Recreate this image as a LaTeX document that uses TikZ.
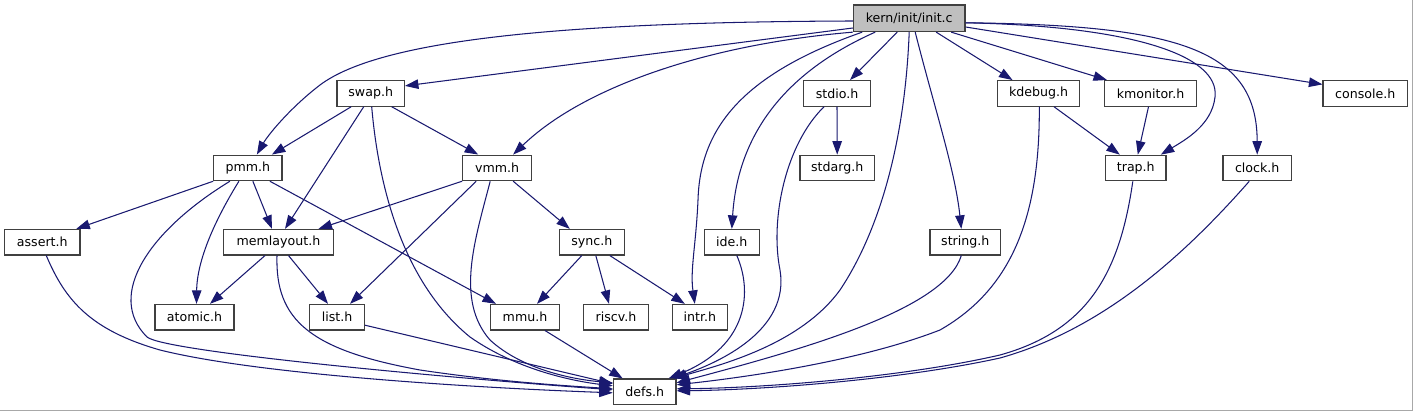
\documentclass[tikz,border=0pt]{standalone}
\usepackage{fontspec}
\setmainfont{DejaVu Sans}
\usetikzlibrary{arrows.meta}
\definecolor{edgeblue}{HTML}{191970}
\definecolor{boxline}{HTML}{404040}
\definecolor{rootfill}{HTML}{BFBFBF}
\definecolor{frameline}{HTML}{A8A8A8}
\tikzset{
  hdr/.style={draw=boxline, line width=1.2pt, fill=white, minimum height=25.5pt, inner sep=0pt,
    font=\fontsize{12.6}{15}\selectfont, text=black},
  rootbox/.style={hdr, fill=rootfill, minimum height=26.5pt},
  edge/.style={draw=edgeblue, line width=1.05pt, -{Triangle[length=13.5pt,width=9.5pt]}, fill=none}
}
\begin{document}
\begin{tikzpicture}[x=1pt,y=-1pt]
\useasboundingbox (0,0) rectangle (1413,411);
\fill[white] (0,0) rectangle (1413,411);
\draw[frameline, line width=1pt] (0,410.5) -- (1412.5,410.5) -- (1412.5,0);

% nodes
\node[rootbox, minimum width=111.7pt] (init) at (909.2,18.3) {kern/init/init.c};
\node[hdr, minimum width=67.3pt] (swap) at (370.7,93.4) {swap.h};
\node[hdr, minimum width=66.7pt] (stdio) at (837,93.4) {stdio.h};
\node[hdr, minimum width=82.3pt] (kdebug) at (1038.5,93.4) {kdebug.h};
\node[hdr, minimum width=92.3pt] (kmonitor) at (1150.5,93.4) {kmonitor.h};
\node[hdr, minimum width=84.3pt] (console) at (1365.2,93.4) {console.h};
\node[hdr, minimum width=68.3pt] (pmm) at (247.9,167.9) {pmm.h};
\node[hdr, minimum width=69pt] (vmm) at (497.2,167.9) {vmm.h};
\node[hdr, minimum width=74.3pt] (stdarg) at (837.2,168) {stdarg.h};
\node[hdr, minimum width=60.3pt] (trap) at (1135.8,168) {trap.h};
\node[hdr, minimum width=68.3pt] (clock) at (1257.2,168) {clock.h};
\node[hdr, minimum width=75.3pt] (assert) at (42.3,242.2) {assert.h};
\node[hdr, minimum width=109.7pt] (memlayout) at (278.5,242.2) {memlayout.h};
\node[hdr, minimum width=65pt] (sync) at (591.8,242.2) {sync.h};
\node[hdr, minimum width=55pt] (ide) at (731.8,242.2) {ide.h};
\node[hdr, minimum width=70.7pt] (string) at (965.3,242.2) {string.h};
\node[hdr, minimum width=79pt] (atomic) at (194.5,317.2) {atomic.h};
\node[hdr, minimum width=54.7pt] (list) at (337,317.2) {list.h};
\node[hdr, minimum width=68.7pt] (mmu) at (525,317.2) {mmu.h};
\node[hdr, minimum width=64.7pt] (riscv) at (616,317.2) {riscv.h};
\node[hdr, minimum width=55pt] (intr) at (699.8,317.2) {intr.h};
\node[hdr, minimum width=62.7pt] (defs) at (644.7,391.8) {defs.h};

% edges from init.c
\draw[edge] ([yshift=-2.7pt]init.west) .. controls (560,22) and (380,40) .. (320,85) .. controls (290,108) and (268,135) .. ([xshift=9pt]pmm.north);
\draw[edge] ([yshift=-9.7pt]init.west) -- ([yshift=7.5pt]swap.east);
\draw[edge] (init.south west) .. controls (700,45) and (580,90) .. ([xshift=16pt]vmm.north);
\draw[edge] ([xshift=-47pt]init.south) .. controls (740,75) and (700,130) .. (698,200) .. controls (696,245) and (690,270) .. ([xshift=-5pt]intr.north);
\draw[edge] ([xshift=-34pt]init.south) .. controls (790,70) and (738,130) .. (ide.north);
\draw[edge] ([xshift=-12pt]init.south) -- ([xshift=13pt]stdio.north);
\draw[edge] (init.south) .. controls (905,140) and (880,230) .. (840,290) .. controls (800,345) and (720,365) .. ([xshift=-3pt]defs.north east);
\draw[edge] ([xshift=6pt]init.south) .. controls (935,110) and (955,170) .. ([xshift=-4pt]string.north);
\draw[edge] ([xshift=27pt]init.south) -- ([xshift=-26pt]kdebug.north);
\draw[edge] ([xshift=42pt]init.south) -- ([xshift=-43.5pt]kmonitor.north);
\draw[edge] ([yshift=-8.7pt]init.east) -- ([yshift=9pt]console.west);
\draw[edge] ([yshift=-4.5pt]init.east) .. controls (1130,26) and (1220,55) .. (1215,97) .. controls (1212,125) and (1185,140) .. ([xshift=25pt]trap.north);
\draw[edge] ([yshift=-4.5pt]init.east) .. controls (1180,25) and (1257,50) .. (clock.north);

% swap.h
\draw[edge] ([xshift=-19.5pt]swap.south) -- ([xshift=24pt]pmm.north);
\draw[edge] ([xshift=-7pt]swap.south) -- ([xshift=6.5pt]memlayout.north);
\draw[edge] ([xshift=21pt]swap.south) -- ([xshift=-19pt]vmm.north);
\draw[edge] ([xshift=1pt]swap.south) .. controls (378,180) and (400,280) .. (470,337) .. controls (520,372) and (580,382) .. ([yshift=6pt]defs.west);

% pmm.h
\draw[edge] (pmm.south west) -- ([xshift=34pt]assert.north);
\draw[edge] ([xshift=-18pt]pmm.south) .. controls (150,230) and (105,295) .. (147,337) .. controls (165,352) and (450,378) .. ([yshift=2pt]defs.west);
\draw[edge] ([xshift=-9pt]pmm.south) .. controls (215,220) and (197,260) .. ([xshift=2pt]atomic.north);
\draw[edge] ([xshift=5pt]pmm.south) -- ([xshift=-6.5pt]memlayout.north);
\draw[edge] ([xshift=22pt]pmm.south) -- ([xshift=-29pt]mmu.north);

% vmm.h
\draw[edge] (vmm.south west) -- ([xshift=40pt]memlayout.north);
\draw[edge] ([xshift=-21pt]vmm.south) -- ([xshift=13pt]list.north);
\draw[edge] ([xshift=-7pt]vmm.south) .. controls (475,240) and (455,300) .. (490,340) .. controls (525,372) and (580,380) .. ([yshift=9pt]defs.west);
\draw[edge] ([xshift=16pt]vmm.south) -- ([xshift=-22pt]sync.north);

% memlayout.h
\draw[edge] ([xshift=-13.5pt]memlayout.south) -- ([xshift=15.5pt]atomic.north);
\draw[edge] ([xshift=10pt]memlayout.south) -- ([xshift=-9pt]list.north);
\draw[edge] ([xshift=-1.5pt]memlayout.south) .. controls (275,320) and (310,350) .. (420,370) .. controls (500,382) and (570,386) .. ([yshift=3pt]defs.west);

% list.h, mmu.h
\draw[edge] ([yshift=-8pt]list.east) -- ([yshift=8pt]defs.west);
\draw[edge] ([xshift=20pt]mmu.south) -- ([xshift=-22pt]defs.north);

% sync.h
\draw[edge] ([xshift=-10pt]sync.south) -- ([xshift=12pt]mmu.north);
\draw[edge] ([xshift=4pt]sync.south) -- ([xshift=-7pt]riscv.north);
\draw[edge] ([xshift=18pt]sync.south) -- ([xshift=-15pt]intr.north);

% ide.h
\draw[edge] ([xshift=5pt]ide.south) .. controls (752,290) and (750,345) .. ([xshift=-8pt]defs.north east);

% stdio.h
\draw[edge] (stdio.south) -- (stdarg.north);
\draw[edge] ([xshift=-13pt]stdio.south) .. controls (785,145) and (770,220) .. (780,270) .. controls (790,330) and (720,362) .. ([xshift=-4pt]defs.north east);

% string.h
\draw[edge] ([xshift=-4pt]string.south) .. controls (945,310) and (800,350) .. ([yshift=9pt]defs.east);

% kdebug.h, kmonitor.h
\draw[edge] ([xshift=15.5pt]kdebug.south) -- ([xshift=-16pt]trap.north);
\draw[edge] ([xshift=0.8pt]kdebug.south) .. controls (1040,220) and (1010,290) .. (940,330) .. controls (850,365) and (720,380) .. ([yshift=7pt]defs.east);
\draw[edge] ([xshift=-2pt]kmonitor.south) -- ([xshift=2pt]trap.north);

% trap.h, clock.h, assert.h
\draw[edge] ([xshift=-3pt]trap.south) .. controls (1120,270) and (1090,330) .. (1000,355) .. controls (900,378) and (760,388) .. ([yshift=3pt]defs.east);
\draw[edge] ([xshift=-8pt]clock.south) .. controls (1180,260) and (1100,330) .. (1000,358) .. controls (900,380) and (760,390) .. ([yshift=1pt]defs.east);
\draw[edge] ([xshift=4pt]assert.south) .. controls (65,300) and (90,330) .. (160,350) .. controls (260,375) and (480,388) .. ([yshift=-1pt]defs.west);
\end{tikzpicture}
\end{document}
